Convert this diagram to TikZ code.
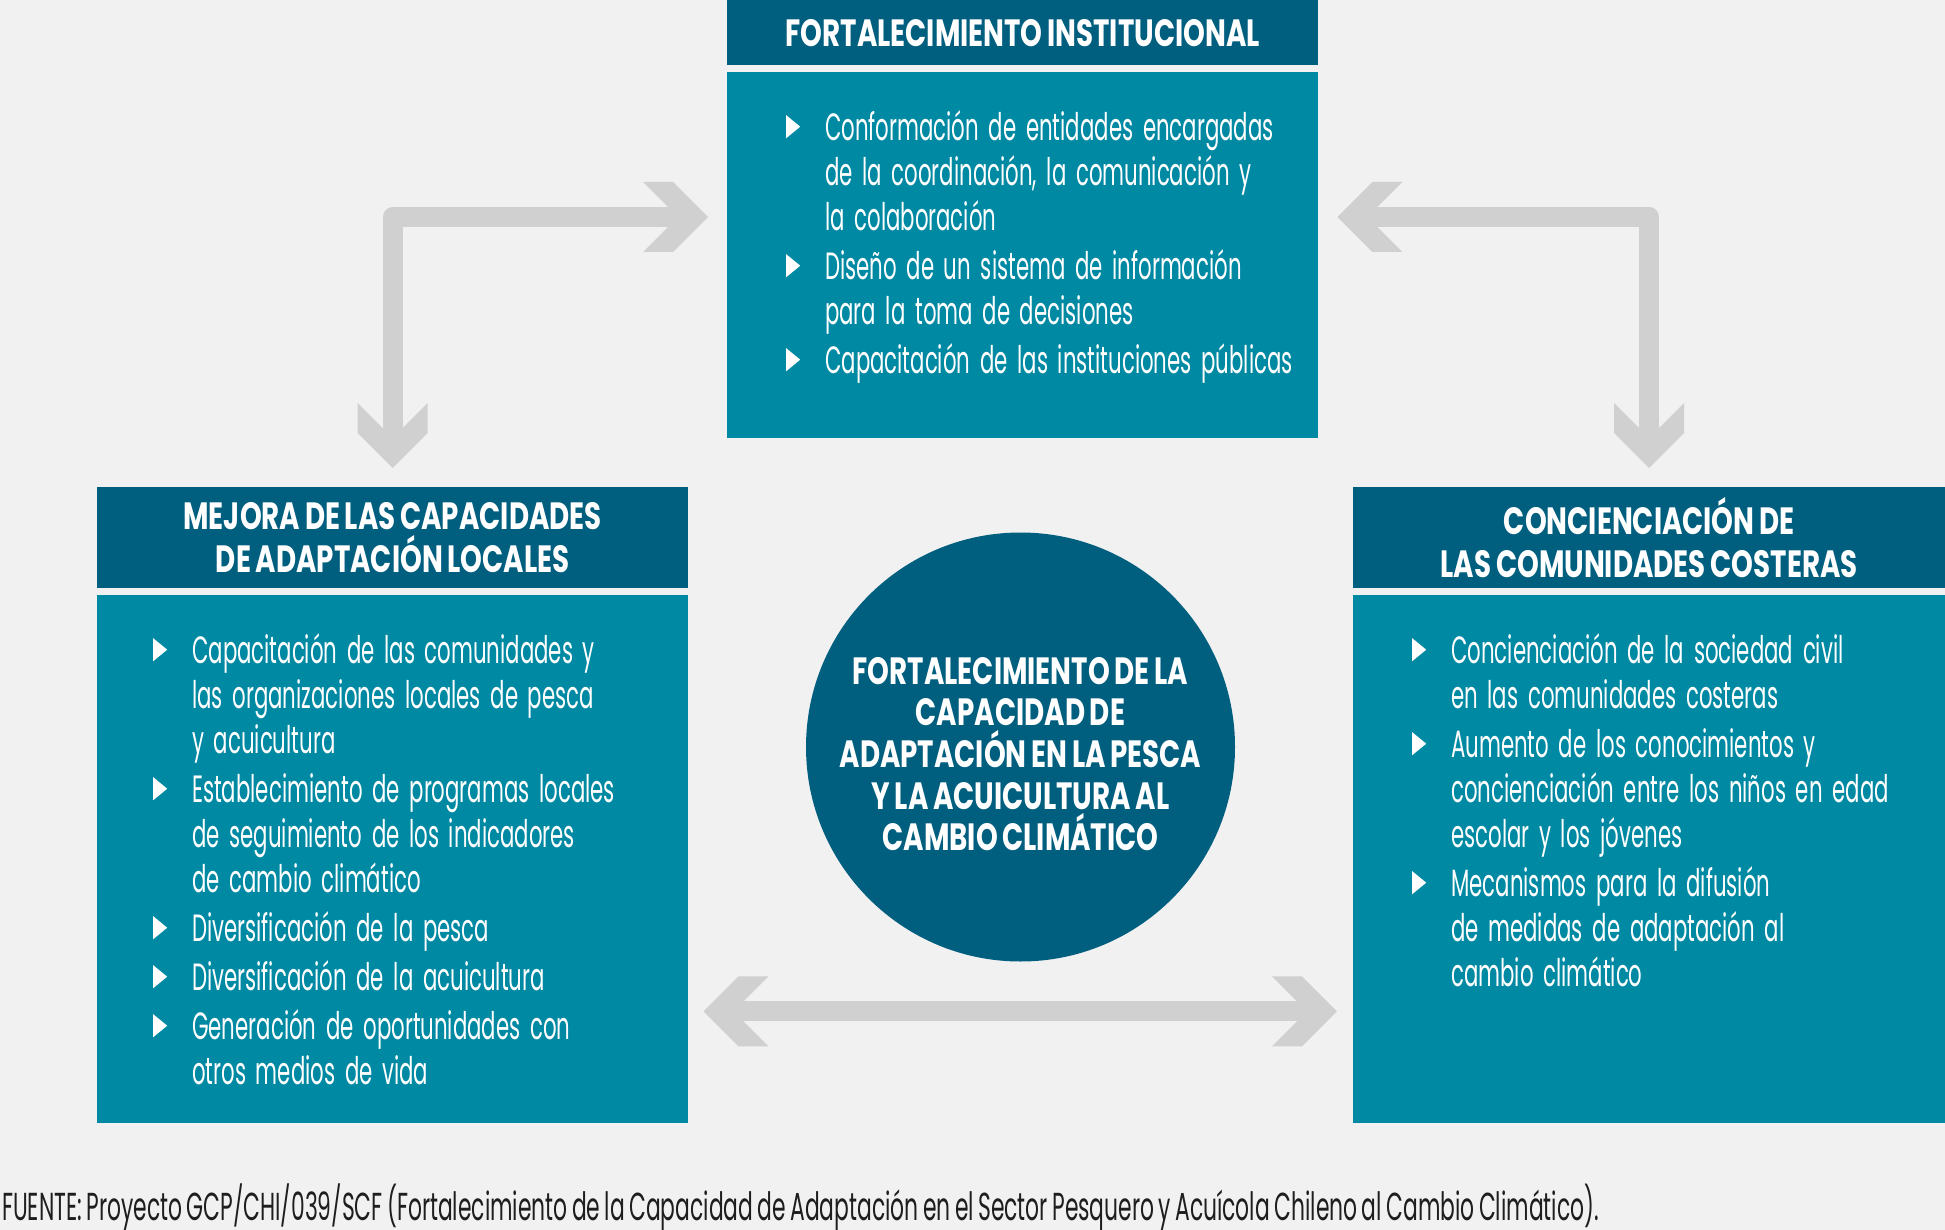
\documentclass[tikz,border=0pt]{standalone}
\usepackage{fontspec}
\setmainfont{Poppins}[FakeStretch=0.56, WordSpace=0.75]
\newfontfamily\headfont{Poppins}[FakeStretch=0.73, WordSpace=0.8]
\usetikzlibrary{positioning,calc}

\definecolor{headblue}{RGB}{0,94,127}
\definecolor{bodyteal}{RGB}{0,137,163}
\definecolor{paper}{RGB}{241,241,241}
\definecolor{arrowgray}{RGB}{208,208,208}
\definecolor{notegray}{RGB}{30,30,30}

% white bullet triangle
\newcommand{\tri}{\tikz[baseline=-2pt]\fill[white] (0pt,0pt) -- (0pt,23pt) -- (14pt,11.5pt) -- cycle;}
\newenvironment{puntos}{\begin{list}{\tri}{%
  \setlength\leftmargin{39pt}\setlength\labelwidth{39pt}\setlength\labelsep{0pt}%
  \setlength\itemsep{4pt}\setlength\parsep{0pt}\setlength\topsep{0pt}\setlength\partopsep{0pt}%
  \renewcommand\makelabel[1]{\rule{0pt}{32pt}##1\hfil}}\raggedright
  \spaceskip=9.7pt plus 2pt minus 1pt\xspaceskip=0pt}{\end{list}}

\tikzset{
  headbox/.style={fill=headblue, text=white, font=\headfont\bfseries\fontsize{38}{43}\selectfont,
    align=center, minimum width=591pt, inner sep=0pt, anchor=north west},
  bodybox/.style={fill=bodyteal, minimum width=591pt, inner sep=0pt, anchor=north west},
  itemtext/.style={text=white, font=\fontsize{38}{45}\selectfont, text width=560pt,
    align=left, inner sep=0pt, anchor=north west},
  linkarrow/.style={draw=arrowgray, line width=20pt, line join=round,
    shorten <=30pt, shorten >=30pt},
  chev/.pic={\fill[arrowgray] (0,0) -- (-35,-35) -- (-65,-35) -- (-30,0) -- (-65,35) -- (-35,35) -- cycle;}
}

\begin{document}
\begin{tikzpicture}[x=1pt,y=-1pt]
\useasboundingbox (0,0) rectangle (1945,1230);
\fill[paper] (0,0) rectangle (1945,1230);

% top block
\node[headbox, minimum height=65pt] (instHead) at (727,0) {FORTALECIMIENTO INSTITUCIONAL};
\node[bodybox, minimum height=366pt] (instBody) at (727,72) {};
\node[itemtext] (instList) at ($(instBody.north west)+(59,23)$) {\begin{puntos}
  \item Conformación de entidades encargadas\\ de la coordinación, la comunicación y\\ la colaboración
  \item Diseño de un sistema de información\\ para la toma de decisiones
  \item Capacitación de las instituciones públicas
\end{puntos}};

% left block
\node[headbox, minimum height=101pt] (mejoraHead) at (97,487) {MEJORA DE LAS CAPACIDADES\\ DE ADAPTACIÓN LOCALES};
\node[bodybox, minimum height=528pt] (mejoraBody) at (97,595) {};
\node[itemtext] (mejoraList) at ($(mejoraBody.north west)+(56,23)$) {\begin{puntos}
  \item Capacitación de las comunidades y\\ las organizaciones locales de pesca\\ y acuicultura
  \item Establecimiento de programas locales\\ de seguimiento de los indicadores\\ de cambio climático
  \item Diversificación de la pesca
  \item Diversificación de la acuicultura
  \item Generación de oportunidades con\\ otros medios de vida
\end{puntos}};

% right block
\node[headbox, minimum width=592pt, minimum height=101pt] (conciHead) at (1353,487) {CONCIENCIACIÓN DE\\ LAS COMUNIDADES COSTERAS};
\node[bodybox, minimum width=592pt, minimum height=528pt] (conciBody) at (1353,595) {};
\node[itemtext] (conciList) at ($(conciBody.north west)+(59,23)$) {\begin{puntos}
  \item Concienciación de la sociedad civil\\ en las comunidades costeras
  \item Aumento de los conocimientos y\\ concienciación entre los niños en edad\\ escolar y los jóvenes
  \item Mecanismos para la difusión\\ de medidas de adaptación al\\ cambio climático
\end{puntos}};

% centre
\node[circle, fill=headblue, minimum size=429pt, inner sep=0pt] (core) at (1020.5,747) {};
\node[text=white, align=center, inner sep=0pt, font=\headfont\bfseries\fontsize{38}{41.6}\selectfont]
  (coreText) at ($(core.center)+(0,7)$)
  {FORTALECIMIENTO DE LA\\ CAPACIDAD DE\\ ADAPTACIÓN EN LA PESCA\\ Y LA ACUICULTURA AL\\ CAMBIO CLIMÁTICO};

% arrows
\coordinate (a1) at ($(mejoraHead.north)+(0,-19)$);
\coordinate (a2) at ($(instHead.north west)+(-19,217)$);
\coordinate (b1) at ($(instHead.north east)+(19,217)$);
\coordinate (b2) at ($(conciHead.north)+(0,-19)$);
\coordinate (c1) at ($(mejoraBody.south east)+(15,-112)$);
\coordinate (c2) at ($(conciBody.south west)+(-16,-112)$);

\draw[linkarrow] (a1) -- (a1 |- a2) -- (a2);
\pic[rotate=-90] at (a1) {chev};
\pic at (a2) {chev};

\draw[linkarrow] (b1) -- (b1 -| b2) -- (b2);
\pic[rotate=180] at (b1) {chev};
\pic[rotate=-90] at (b2) {chev};

\draw[linkarrow] (c1) -- (c2);
\pic[rotate=180] at (c1) {chev};
\pic at (c2) {chev};

\node[anchor=base west, inner sep=0pt, text=notegray, font=\fontsize{39}{45}\selectfont] (fuente) at (2,1220)
  {FUENTE: Proyecto GCP/CHI/039/SCF (Fortalecimiento de la Capacidad de Adaptación en el Sector Pesquero y Acuícola Chileno al Cambio Climático).};
\end{tikzpicture}
\end{document}
